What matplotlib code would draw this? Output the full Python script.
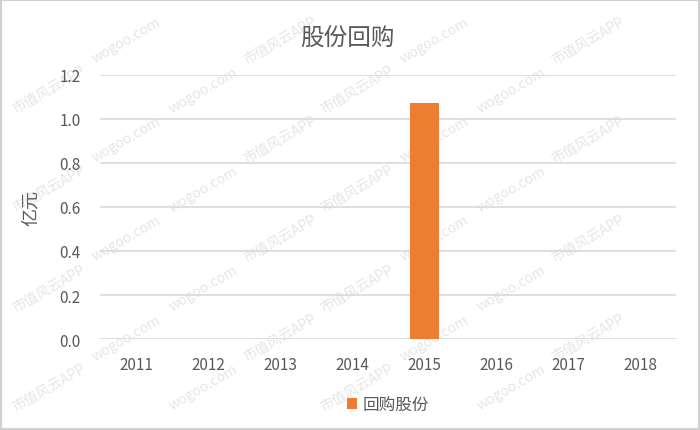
import numpy as np
import matplotlib.pyplot as plt
from matplotlib.patches import Rectangle

plt.rcParams['font.family'] = ['Noto Sans CJK SC', 'DejaVu Sans']

years = ['2011', '2012', '2013', '2014', '2015', '2016', '2017', '2018']
buyback = [0, 0, 0, 0, 1.073, 0, 0, 0]
yticks = [0.0, 0.2, 0.4, 0.6, 0.8, 1.0, 1.2]

fig = plt.figure(figsize=(7, 4.31), dpi=100)
fig.patches.append(Rectangle((0.002, 0.003), 0.996, 0.994, transform=fig.transFigure,
                             fill=False, edgecolor='#d0d0d0', lw=1.5))

# watermarks, kept inside the frame
for row in range(0, 8):
    for col in range(0, 5):
        x = col * 0.22 + (row % 2) * 0.11 + 0.07
        y = row * 0.115 + 0.1
        if x > 0.92 or y > 0.92:
            continue
        txt = '市值风云APP' if (row + col) % 2 == 0 else 'wogoo.com'
        fig.text(x, y, txt, rotation=30, fontsize=10, color='#e6e6e6',
                 ha='center', va='center', zorder=-1)

ax = fig.add_axes([0.143, 0.211, 0.823, 0.613])
ax.patch.set_alpha(0)
x = np.arange(len(years))
ax.bar(x, buyback, width=0.4, color='#ed7d31', label='回购股份', zorder=3)

ax.set_ylim(0, 1.2)
ax.set_xlim(-0.5, len(years) - 0.5)
ax.set_yticks(yticks)
ax.set_yticklabels(['%.1f' % v for v in yticks])
ax.set_xticks(x)
ax.set_xticklabels(years)
ax.tick_params(length=0, labelsize=11, labelcolor='#595959')
ax.tick_params(axis='x', pad=12)
ax.tick_params(axis='y', pad=14)
ax.grid(axis='y', color='#d9d9d9', lw=1.2, zorder=0)
for s in ax.spines.values():
    s.set_visible(False)

ax.set_ylabel('亿元', fontsize=13, color='#595959', labelpad=14)
fig.text(0.497, 0.912, '股份回购', fontsize=17, color='#595959', ha='center', va='center')

ax.legend(loc='center', bbox_to_anchor=(0.5, -0.25), frameon=False, fontsize=12,
          handlelength=0.6, handleheight=0.6, handletextpad=0.3, labelcolor='#595959')

fig.savefig('out.png', dpi=100)
